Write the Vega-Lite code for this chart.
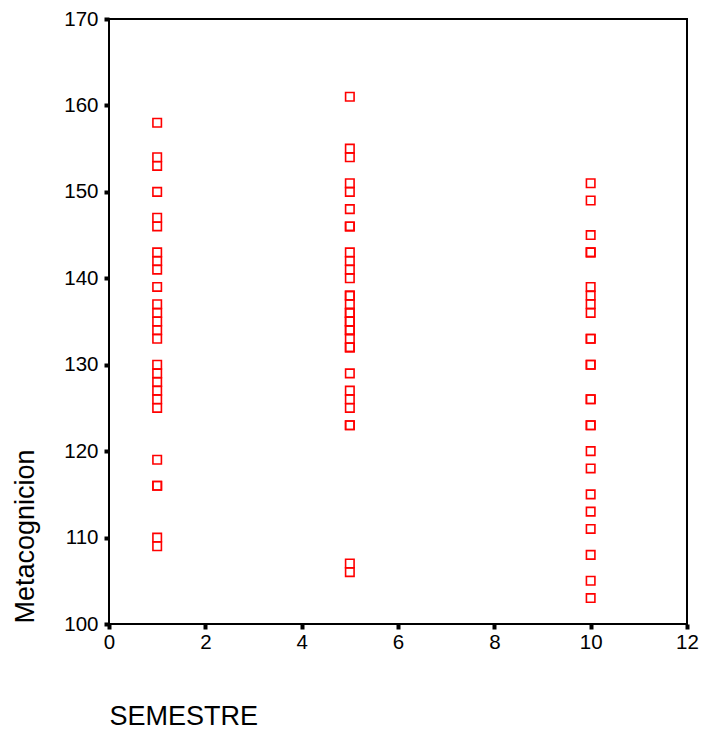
{
  "$schema": "https://vega.github.io/schema/vega-lite/v6.json",
  "width": 578,
  "height": 605,
  "autosize": {"type": "none"},
  "padding": {"left": 109, "top": 19, "right": 16, "bottom": 107},
  "background": "white",
  "config": {
    "view": {"stroke": "black", "strokeWidth": 2},
    "font": "Liberation Sans",
    "axis": {
      "grid": false,
      "domain": false,
      "tickColor": "black",
      "tickWidth": 4,
      "tickSize": 5,
      "labelColor": "black",
      "labelFont": "Liberation Sans",
      "labelFontSize": 20.5,
      "labelFlush": false,
      "labelOverlap": false,
      "titleFont": "Liberation Sans",
      "titleFontSize": 27,
      "titleFontWeight": "normal",
      "titleColor": "black"
    }
  },
  "data": {
    "values": [
      {"SEMESTRE": 1, "Metacognicion": 158},
      {"SEMESTRE": 1, "Metacognicion": 154},
      {"SEMESTRE": 1, "Metacognicion": 153},
      {"SEMESTRE": 1, "Metacognicion": 150},
      {"SEMESTRE": 1, "Metacognicion": 147},
      {"SEMESTRE": 1, "Metacognicion": 146},
      {"SEMESTRE": 1, "Metacognicion": 143},
      {"SEMESTRE": 1, "Metacognicion": 142},
      {"SEMESTRE": 1, "Metacognicion": 141},
      {"SEMESTRE": 1, "Metacognicion": 139},
      {"SEMESTRE": 1, "Metacognicion": 137},
      {"SEMESTRE": 1, "Metacognicion": 136},
      {"SEMESTRE": 1, "Metacognicion": 135},
      {"SEMESTRE": 1, "Metacognicion": 134},
      {"SEMESTRE": 1, "Metacognicion": 133},
      {"SEMESTRE": 1, "Metacognicion": 130},
      {"SEMESTRE": 1, "Metacognicion": 129},
      {"SEMESTRE": 1, "Metacognicion": 128},
      {"SEMESTRE": 1, "Metacognicion": 127},
      {"SEMESTRE": 1, "Metacognicion": 126},
      {"SEMESTRE": 1, "Metacognicion": 125},
      {"SEMESTRE": 1, "Metacognicion": 119},
      {"SEMESTRE": 1, "Metacognicion": 116},
      {"SEMESTRE": 1, "Metacognicion": 116},
      {"SEMESTRE": 1, "Metacognicion": 110},
      {"SEMESTRE": 1, "Metacognicion": 109},
      {"SEMESTRE": 5, "Metacognicion": 161},
      {"SEMESTRE": 5, "Metacognicion": 155},
      {"SEMESTRE": 5, "Metacognicion": 154},
      {"SEMESTRE": 5, "Metacognicion": 151},
      {"SEMESTRE": 5, "Metacognicion": 150},
      {"SEMESTRE": 5, "Metacognicion": 148},
      {"SEMESTRE": 5, "Metacognicion": 146},
      {"SEMESTRE": 5, "Metacognicion": 146},
      {"SEMESTRE": 5, "Metacognicion": 143},
      {"SEMESTRE": 5, "Metacognicion": 142},
      {"SEMESTRE": 5, "Metacognicion": 141},
      {"SEMESTRE": 5, "Metacognicion": 140},
      {"SEMESTRE": 5, "Metacognicion": 138},
      {"SEMESTRE": 5, "Metacognicion": 138},
      {"SEMESTRE": 5, "Metacognicion": 137},
      {"SEMESTRE": 5, "Metacognicion": 136},
      {"SEMESTRE": 5, "Metacognicion": 136},
      {"SEMESTRE": 5, "Metacognicion": 135},
      {"SEMESTRE": 5, "Metacognicion": 135},
      {"SEMESTRE": 5, "Metacognicion": 134},
      {"SEMESTRE": 5, "Metacognicion": 134},
      {"SEMESTRE": 5, "Metacognicion": 133},
      {"SEMESTRE": 5, "Metacognicion": 132},
      {"SEMESTRE": 5, "Metacognicion": 132},
      {"SEMESTRE": 5, "Metacognicion": 129},
      {"SEMESTRE": 5, "Metacognicion": 127},
      {"SEMESTRE": 5, "Metacognicion": 126},
      {"SEMESTRE": 5, "Metacognicion": 125},
      {"SEMESTRE": 5, "Metacognicion": 123},
      {"SEMESTRE": 5, "Metacognicion": 123},
      {"SEMESTRE": 5, "Metacognicion": 107},
      {"SEMESTRE": 5, "Metacognicion": 106},
      {"SEMESTRE": 10, "Metacognicion": 151},
      {"SEMESTRE": 10, "Metacognicion": 149},
      {"SEMESTRE": 10, "Metacognicion": 145},
      {"SEMESTRE": 10, "Metacognicion": 143},
      {"SEMESTRE": 10, "Metacognicion": 143},
      {"SEMESTRE": 10, "Metacognicion": 139},
      {"SEMESTRE": 10, "Metacognicion": 138},
      {"SEMESTRE": 10, "Metacognicion": 137},
      {"SEMESTRE": 10, "Metacognicion": 136},
      {"SEMESTRE": 10, "Metacognicion": 133},
      {"SEMESTRE": 10, "Metacognicion": 133},
      {"SEMESTRE": 10, "Metacognicion": 130},
      {"SEMESTRE": 10, "Metacognicion": 130},
      {"SEMESTRE": 10, "Metacognicion": 126},
      {"SEMESTRE": 10, "Metacognicion": 126},
      {"SEMESTRE": 10, "Metacognicion": 123},
      {"SEMESTRE": 10, "Metacognicion": 123},
      {"SEMESTRE": 10, "Metacognicion": 120},
      {"SEMESTRE": 10, "Metacognicion": 118},
      {"SEMESTRE": 10, "Metacognicion": 115},
      {"SEMESTRE": 10, "Metacognicion": 113},
      {"SEMESTRE": 10, "Metacognicion": 111},
      {"SEMESTRE": 10, "Metacognicion": 108},
      {"SEMESTRE": 10, "Metacognicion": 105},
      {"SEMESTRE": 10, "Metacognicion": 103}
    ]
  },
  "mark": {"type": "point", "shape": "square", "filled": false, "color": "#ff0000", "size": 72, "strokeWidth": 1.6, "opacity": 1},
  "encoding": {
    "x": {
      "field": "SEMESTRE",
      "type": "quantitative",
      "scale": {"domain": [0, 12], "nice": false, "zero": false},
      "axis": {
        "values": [0, 2, 4, 6, 8, 10, 12],
        "format": "d",
        "title": "SEMESTRE",
        "titleAnchor": "start",
        "titleAlign": "left",
        "titleBaseline": "alphabetic",
        "titleX": 0,
        "titleY": 100,
        "labelPadding": 3
      }
    },
    "y": {
      "field": "Metacognicion",
      "type": "quantitative",
      "scale": {"domain": [100, 170], "nice": false, "zero": false},
      "axis": {
        "values": [100, 110, 120, 130, 140, 150, 160, 170],
        "format": "d",
        "title": "Metacognicion",
        "titleAngle": -90,
        "titleAlign": "left",
        "titleBaseline": "alphabetic",
        "titleX": -76,
        "titleY": 604,
        "labelPadding": 6
      }
    }
  }
}
